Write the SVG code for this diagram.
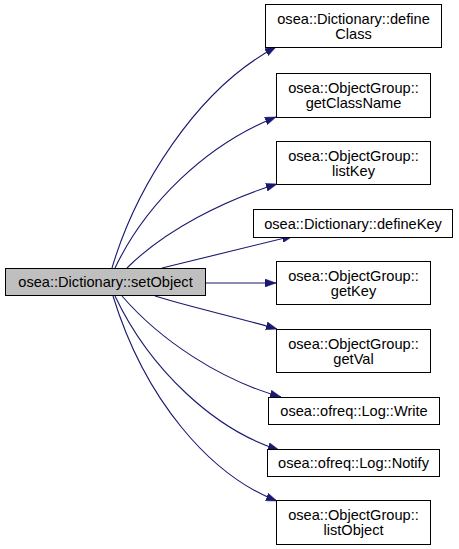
<svg xmlns="http://www.w3.org/2000/svg" width="459" height="549" viewBox="0 0 459 549">
<style>
.n rect{fill:#ffffff;stroke:#000000;stroke-width:1}
#n0 rect{fill:#bfbfbf}
text{font-family:"Liberation Sans",Arial,sans-serif;font-size:14.6px;fill:#000000;text-anchor:middle}
.e path{fill:none;stroke:#191970;stroke-width:1.1;marker-end:url(#ah)}
</style>
<defs>
<marker id="ah" markerUnits="userSpaceOnUse" markerWidth="11" markerHeight="8" refX="11" refY="4" orient="auto">
<path d="M0,0 L11,4 L0,8 z" fill="#191970" stroke="#191970" stroke-width="0.5"/>
</marker>
</defs>
<rect width="459" height="549" fill="#ffffff"/>
<g id="edges" class="e">
<path d="M112,268 C135,190 195,90 276,47"/>
<path d="M115,268 C145,205 205,145 276,117"/>
<path d="M127,268 C165,230 225,200 277,184"/>
<path d="M162,268 L293,236"/>
<path d="M205,283 L276,283"/>
<path d="M155,296 C190,307 240,318 277,329"/>
<path d="M122,296 C160,340 220,380 281,397"/>
<path d="M115,296 C150,370 215,430 279,450"/>
<path d="M113,296 C145,400 210,475 277,501"/>
</g>
<g id="n0" class="n"><rect x="5.5" y="268.5" width="200" height="27"/><text x="105.5" y="287">osea::Dictionary::setObject</text></g>
<g id="n1" class="n"><rect x="265.5" y="4.5" width="176" height="43"/><text x="353.5" y="24">osea::Dictionary::define</text><text x="353.5" y="38.5">Class</text></g>
<g id="n2" class="n"><rect x="276.5" y="73.5" width="154" height="44"/><text x="353.5" y="93">osea::ObjectGroup::</text><text x="353.5" y="107.5">getClassName</text></g>
<g id="n3" class="n"><rect x="276.5" y="141.5" width="154" height="43"/><text x="353.5" y="161">osea::ObjectGroup::</text><text x="353.5" y="175.5">listKey</text></g>
<g id="n4" class="n"><rect x="253.5" y="209.5" width="199" height="28"/><text x="353" y="228.5">osea::Dictionary::defineKey</text></g>
<g id="n5" class="n"><rect x="276.5" y="261.5" width="154" height="43"/><text x="353.5" y="281">osea::ObjectGroup::</text><text x="353.5" y="295.5">getKey</text></g>
<g id="n6" class="n"><rect x="276.5" y="329.5" width="154" height="43"/><text x="353.5" y="349">osea::ObjectGroup::</text><text x="353.5" y="363.5">getVal</text></g>
<g id="n7" class="n"><rect x="268.5" y="397.5" width="171" height="27"/><text x="354" y="416">osea::ofreq::Log::Write</text></g>
<g id="n8" class="n"><rect x="267.5" y="449.5" width="172" height="27"/><text x="353.5" y="468">osea::ofreq::Log::Notify</text></g>
<g id="n9" class="n"><rect x="276.5" y="500.5" width="154" height="44"/><text x="353.5" y="520">osea::ObjectGroup::</text><text x="353.5" y="534.5">listObject</text></g>
</svg>
